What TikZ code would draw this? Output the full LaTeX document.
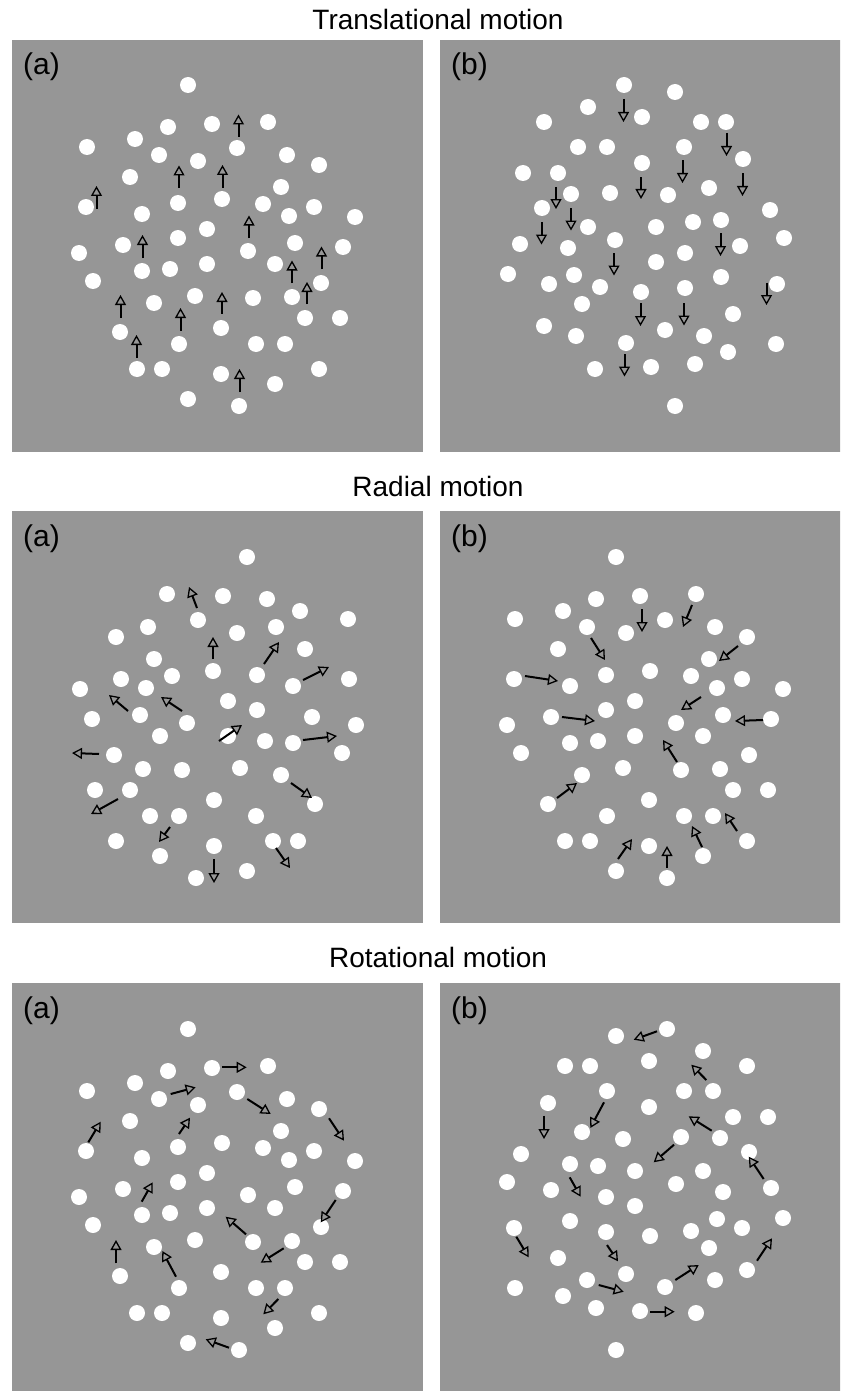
\documentclass[tikz,border=0pt]{standalone}
\usepackage{fontspec}
\setmainfont{Liberation Sans}
\usetikzlibrary{arrows.meta}

\definecolor{panelgray}{RGB}{150,150,150}

% dot layout of one panel, relative to the panel centre (y points down)
\newcommand{\dotfield}{%
  \foreach \dx/\dy in {-29.5/-160.5, -49.5/-118.5, -5.5/-121.5, 50.5/-123.5,
      -82.5/-106.5, -130.5/-98.5, -58.5/-90.5, -19.5/-84.5, 19.5/-97.5,
      69.5/-90.5, 101.5/-80.5, -87.5/-68.5, 63.5/-58.5, -131.5/-38.5,
      -39.5/-42.5, 4.5/-46.5, 45.5/-41.5, 96.5/-38.5, -75.5/-31.5,
      71.5/-29.5, 137.5/-28.5, -10.5/-16.5, -39.5/-7.5, -94.5/-0.5,
      77.5/-2.5, 125.5/1.5, -138.5/7.5, 30.5/5.5, -75.5/25.5, -47.5/23.5,
      -10.5/18.5, 57.5/18.5, -124.5/35.5, 103.5/37.5, -63.5/57.5,
      -22.5/50.5, 35.5/52.5, 74.5/51.5, 87.5/72.5, 122.5/72.5, -97.5/86.5,
      3.5/82.5, -38.5/98.5, 38.5/98.5, 67.5/98.5, -80.5/123.5, -55.5/123.5,
      3.5/128.5, 101.5/123.5, 57.5/138.5, -29.5/153.5, 21.5/160.5}
    \fill[dotmark] (\dx,\dy) circle[radius=8pt];}

% translational arrows
\newcommand{\transarrows}{%
  \foreach \ax/\ay/\bx/\by in {21/-108.5/21/-131, -38.5/-57.5/-38.5/-80,
      5/-57.5/5/-80.5, -121/-37/-121/-59.5, 31.5/-7.5/31.5/-30,
      -75/12.5/-75/-10.5, 104/23.5/104/1, 74.5/37.5/74.5/15,
      89.5/58.5/89.5/36.5, -97/72/-97/49.5, 4.5/68/4.5/46.5,
      -37/85/-37/62.5, -81/112.5/-81/89.5, 22/146.5/22/123.5}
    \draw[motionarrow] (\ax,\ay) -- (\bx,\by);}

% rotational arrows
\newcommand{\rotarrows}{%
  \foreach \ax/\ay/\bx/\by in {4.8/-122.2/29.2/-122.2, -46.8/-95.5/-21.8/-102.2,
      29.8/-90.5/53.2/-75.5, 111.5/-71.2/126.5/-48.8,
      -129.2/-47.2/-116.8/-67.8, -38.5/-55.5/-27.5/-71.8,
      -75.8/12.2/-64.8/-7.2, 118.2/10.5/103.2/32.8, 28.5/44.8/8.2/27.2,
      -101.5/73.8/-101.5/50.5, -41.5/87.2/-55.2/61.5, 66.2/58.8/43.2/73.2,
      60.8/109.5/45.8/124.8, 11.5/158.2/-11.8/149.8}
    \draw[motionarrow] (\ax,\ay) -- (\bx,\by);}

\begin{document}
\begin{tikzpicture}[x=1pt, y=-1pt,
    panel/.style={fill=panelgray},
    dotmark/.style={fill=white},
    motionarrow/.style={line width=2pt,
      -{Triangle[open, length=10pt, width=11pt, line width=1.3pt]}},
    paneltitle/.style={anchor=base, inner sep=0pt, font=\fontsize{28}{28}\selectfont},
    panellabel/.style={anchor=base west, inner sep=0pt, font=\fontsize{30}{30}\selectfont}]
  \useasboundingbox (0,0) rectangle (840,1391);
  \clip (0,0) rectangle (840,1391);

  % panels
  \foreach \top in {40,511,983} {
    \fill[panel] (12,\top) rectangle ++(411,412);
    \fill[panel] (440,\top) rectangle ++(411,412);
  }

  % titles
  \node[paneltitle] (trans) at (438,30) {Translational motion};
  \node[paneltitle] (radial) at (438,496) {Radial motion};
  \node[paneltitle] (rot) at (438,967) {Rotational motion};

  % panel labels
  \foreach \top [count=\r] in {40,511,983} {
    \node[panellabel] (a\r) at (23,\top+35) {(a)};
    \node[panellabel] (b\r) at (451,\top+35) {(b)};
  }

  % translational motion
  \begin{scope}[shift={(217.5,245.5)}]
    \dotfield
    \transarrows
  \end{scope}
  \begin{scope}[shift={(645.5,245.5)}, xscale=-1, yscale=-1]
    \dotfield
    \transarrows
  \end{scope}

  % radial motion, outward
  \begin{scope}[shift={(217.5,717.5)}]
    \begin{scope}[xscale=-1]
      \dotfield
    \end{scope}
    \foreach \ax/\ay/\bx/\by in {-20.5/-109.5/-28.5/-130.5, -4.5/-58.5/-4.5/-80.5,
        46.5/-53.5/61.5/-75.5, 85.5/-37.5/111.5/-50.5, -89.5/-6.5/-108.5/-22.5,
        -35.5/-6.5/-56.5/-20.5, 1.5/23.5/24.5/7.5, 85.5/22.5/119.5/18.5,
        -118.5/36.5/-145.5/35.5, 73.5/65.5/94.5/80.5, -99.5/81.5/-126.5/96.5,
        -47.5/109.5/-58.5/124.5, 58.5/130.5/72.5/150.5, -3.5/141.5/-3.5/165.5}
      \draw[motionarrow] (\ax,\ay) -- (\bx,\by);
  \end{scope}

  % radial motion, inward
  \begin{scope}[shift={(645.5,717.5)}]
    \dotfield
    \foreach \ax/\ay/\bx/\by in {-3.5/-108.5/-3.5/-85.5, 46.5/-112.5/37.5/-90.5,
        -54.5/-79.5/-40.5/-57.5, 92.5/-71.5/73.5/-56.5, -120.5/-41.5/-87.5/-36.5,
        55.5/-20.5/35.5/-7.5, -83.5/-0.5/-50.5/3.5, 117.5/2.5/89.5/3.5,
        31.5/44.5/17.5/22.5, -88.5/80.5/-68.5/65.5, 91.5/113.5/79.5/95.5,
        56.5/129.5/46.5/108.5, -27.5/141.5/-13.5/121.5, 21.5/150.5/21.5/128.5}
      \draw[motionarrow] (\ax,\ay) -- (\bx,\by);
  \end{scope}

  % rotational motion
  \begin{scope}[shift={(217.5,1189.5)}]
    \dotfield
    \rotarrows
  \end{scope}
  \begin{scope}[shift={(645.5,1189.5)}, yscale=-1]
    \dotfield
    \rotarrows
  \end{scope}
\end{tikzpicture}
\end{document}
